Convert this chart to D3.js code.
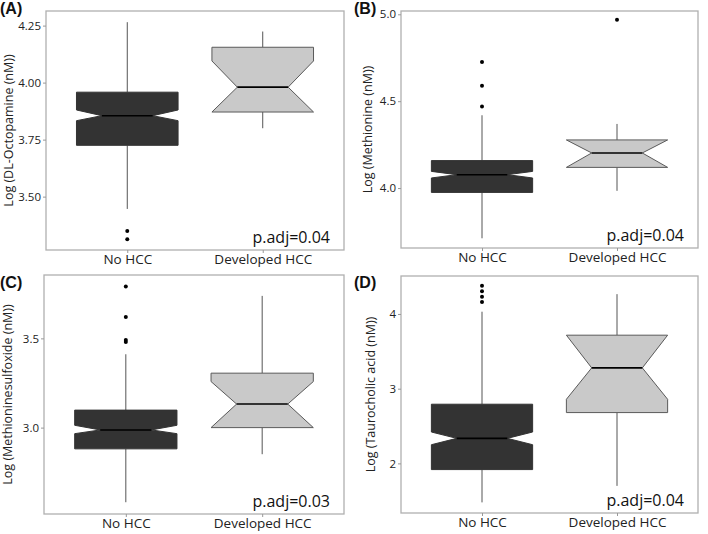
<!DOCTYPE html>
<html>
<head>
<meta charset="utf-8">
<script src="https://cdn.jsdelivr.net/npm/d3@7"></script>
<style>
  html, body { margin: 0; padding: 0; background: #fff; }
  svg { display: block; }
</style>
</head>
<body>
<svg id="chart" width="708" height="534"></svg>
<script>
// ---------- DATA ----------
const categories = ["No HCC", "Developed HCC"];
const panelLabels = ["(A)", "(B)", "(C)", "(D)"];
const yTitles = ["Log (DL-Octopamine (nM))", "Log (Methionine (nM))", "Log (Methioninesulfoxide  (nM))", "Log (Taurocholic acid (nM))"];
const pAdjTexts = ["p.adj=0.04", "p.adj=0.04", "p.adj=0.03", "p.adj=0.04"];

const yTicksA = [3.50, 3.75, 4.00, 4.25];
const yTicksB = [4.0, 4.5, 5.0];
const yTicksC = [3.0, 3.5];
const yTicksD = [2, 3, 4];
const yTickFormats = [".2f", ".1f", ".1f", "d"];

const yDomainA = [3.266, 4.314];
const yDomainB = [3.655, 5.019];
const yDomainC = [2.516, 3.855];
const yDomainD = [1.336, 4.508];

// five-number summaries: [lower whisker, Q1, median, Q3, upper whisker]
const octopamineNoHCC = [3.446, 3.725, 3.855, 3.958, 4.265];
const octopamineHCC   = [3.800, 3.871, 3.980, 4.155, 4.224];
const methionineNoHCC = [3.711, 3.975, 4.077, 4.158, 4.419];
const methionineHCC   = [3.984, 4.119, 4.202, 4.277, 4.369];
const sulfoxideNoHCC  = [2.582, 2.881, 2.987, 3.098, 3.411];
const sulfoxideHCC    = [2.851, 3.000, 3.132, 3.305, 3.738];
const taurocholicNoHCC = [1.478, 1.917, 2.335, 2.792, 4.030];
const taurocholicHCC   = [1.699, 2.680, 3.278, 3.716, 4.265];

// notch [lower, upper]
const octopamineNotch = [[3.833, 3.880], [3.871, 4.095]];
const methionineNotch = [[4.058, 4.096], [4.119, 4.277]];
const sulfoxideNotch  = [[2.966, 3.013], [3.000, 3.258]];
const taurocholicNotch = [[2.250, 2.420], [2.858, 3.716]];

// outliers
const octopamineOutliers = [[3.313, 3.349], []];
const methionineOutliers = [[4.469, 4.589, 4.725], [4.969]];
const sulfoxideOutliers  = [[3.480, 3.491, 3.619, 3.791], []];
const taurocholicOutliers = [[4.159, 4.230, 4.305, 4.376], []];

// ---------- LAYOUT ----------
const layouts = [
  { x0: 46,  x1: 344, y0: 11,  y1: 250, lx: 0,   ly: 14,  tx: 8 },
  { x0: 401, x1: 698, y0: 11,  y1: 248, lx: 354, ly: 14,  tx: 367 },
  { x0: 44,  x1: 344, y0: 275, y1: 514, lx: 0,   ly: 288, tx: 7 },
  { x0: 401, x1: 698, y0: 276, y1: 513, lx: 354, ly: 288, tx: 370 }
];

const panels = [
  { ticks: yTicksA, domain: yDomainA, stats: [octopamineNoHCC, octopamineHCC], notch: octopamineNotch, out: octopamineOutliers },
  { ticks: yTicksB, domain: yDomainB, stats: [methionineNoHCC, methionineHCC], notch: methionineNotch, out: methionineOutliers },
  { ticks: yTicksC, domain: yDomainC, stats: [sulfoxideNoHCC, sulfoxideHCC], notch: sulfoxideNotch, out: sulfoxideOutliers },
  { ticks: yTicksD, domain: yDomainD, stats: [taurocholicNoHCC, taurocholicHCC], notch: taurocholicNotch, out: taurocholicOutliers }
];

const fills = ["#333333", "#c9c9c9"];
const strokes = ["#333333", "#5a5a5a"];
const FONT = "'Open Sans', 'Noto Sans', sans-serif";

const svg = d3.select("#chart");

panels.forEach((p, i) => {
  const L = layouts[i];
  const g = svg.append("g");
  const x = d3.scalePoint().domain(categories).range([L.x0, L.x1]).padding(0.6);
  const y = d3.scaleLinear().domain(p.domain).range([L.y1, L.y0]);
  const bw = x.step() * 0.75;

  // boxes
  categories.forEach((c, j) => {
    const s = p.stats[j];
    const cx = x(c);
    const xl = cx - bw / 2, xr = cx + bw / 2, ind = bw / 4;
    const [nl, nu] = p.notch[j];
    g.append("line").attr("x1", cx).attr("x2", cx).attr("y1", y(s[3])).attr("y2", y(s[4]))
      .attr("stroke", "#555").attr("stroke-width", 1);
    g.append("line").attr("x1", cx).attr("x2", cx).attr("y1", y(s[1])).attr("y2", y(s[0]))
      .attr("stroke", "#555").attr("stroke-width", 1);
    const pts = [
      [xl, y(s[3])], [xl, y(nu)], [xl + ind, y(s[2])], [xl, y(nl)], [xl, y(s[1])],
      [xr, y(s[1])], [xr, y(nl)], [xr - ind, y(s[2])], [xr, y(nu)], [xr, y(s[3])]
    ];
    g.append("path").attr("d", d3.line()(pts) + "Z")
      .attr("fill", fills[j]).attr("stroke", strokes[j]).attr("stroke-width", 1);
    g.append("line").attr("x1", xl + ind).attr("x2", xr - ind)
      .attr("y1", y(s[2])).attr("y2", y(s[2]))
      .attr("stroke", "#000").attr("stroke-width", 1.6);
    g.selectAll(null).data(p.out[j]).enter().append("circle")
      .attr("cx", cx).attr("cy", d => y(d)).attr("r", 2).attr("fill", "#000");
  });

  // frame
  g.append("rect").attr("x", L.x0).attr("y", L.y0)
    .attr("width", L.x1 - L.x0).attr("height", L.y1 - L.y0)
    .attr("fill", "none").attr("stroke", "#b0b0b0").attr("stroke-width", 1.3);

  // y axis
  const ya = d3.axisLeft(y).tickValues(p.ticks).tickSize(3).tickPadding(2)
    .tickFormat(d3.format(yTickFormats[i]));
  const yg = g.append("g").attr("transform", `translate(${L.x0},0)`).call(ya);
  yg.select(".domain").remove();
  yg.selectAll(".tick line").attr("stroke", "#999");
  yg.selectAll(".tick text").attr("fill", "#222").style("font-family", FONT).style("font-size", "11.5px");

  // x axis
  const xa = d3.axisBottom(x).tickSize(3).tickPadding(1);
  const xg = g.append("g").attr("transform", `translate(0,${L.y1})`).call(xa);
  xg.select(".domain").remove();
  xg.selectAll(".tick line").attr("stroke", "#999");
  xg.selectAll(".tick text").attr("fill", "#222").style("font-family", FONT).style("font-size", "13.5px");

  // y title
  g.append("text")
    .attr("transform", `translate(${L.tx},${(L.y0 + L.y1) / 2}) rotate(-90)`)
    .attr("text-anchor", "middle").attr("dominant-baseline", "central")
    .style("font-family", FONT).style("font-size", "12.5px").attr("fill", "#222")
    .text(yTitles[i]);

  // p.adj
  g.append("text").attr("x", L.x1 - 14).attr("y", L.y1 - 7)
    .attr("text-anchor", "end")
    .style("font-family", FONT).style("font-size", "16px").attr("fill", "#111")
    .text(pAdjTexts[i]);

  // panel label
  g.append("text").attr("x", L.lx).attr("y", L.ly)
    .style("font-family", "'Liberation Sans', Arial, sans-serif").style("font-weight", "bold")
    .style("font-size", "16px").attr("fill", "#111")
    .text(panelLabels[i]);
});
</script>
</body>
</html>
